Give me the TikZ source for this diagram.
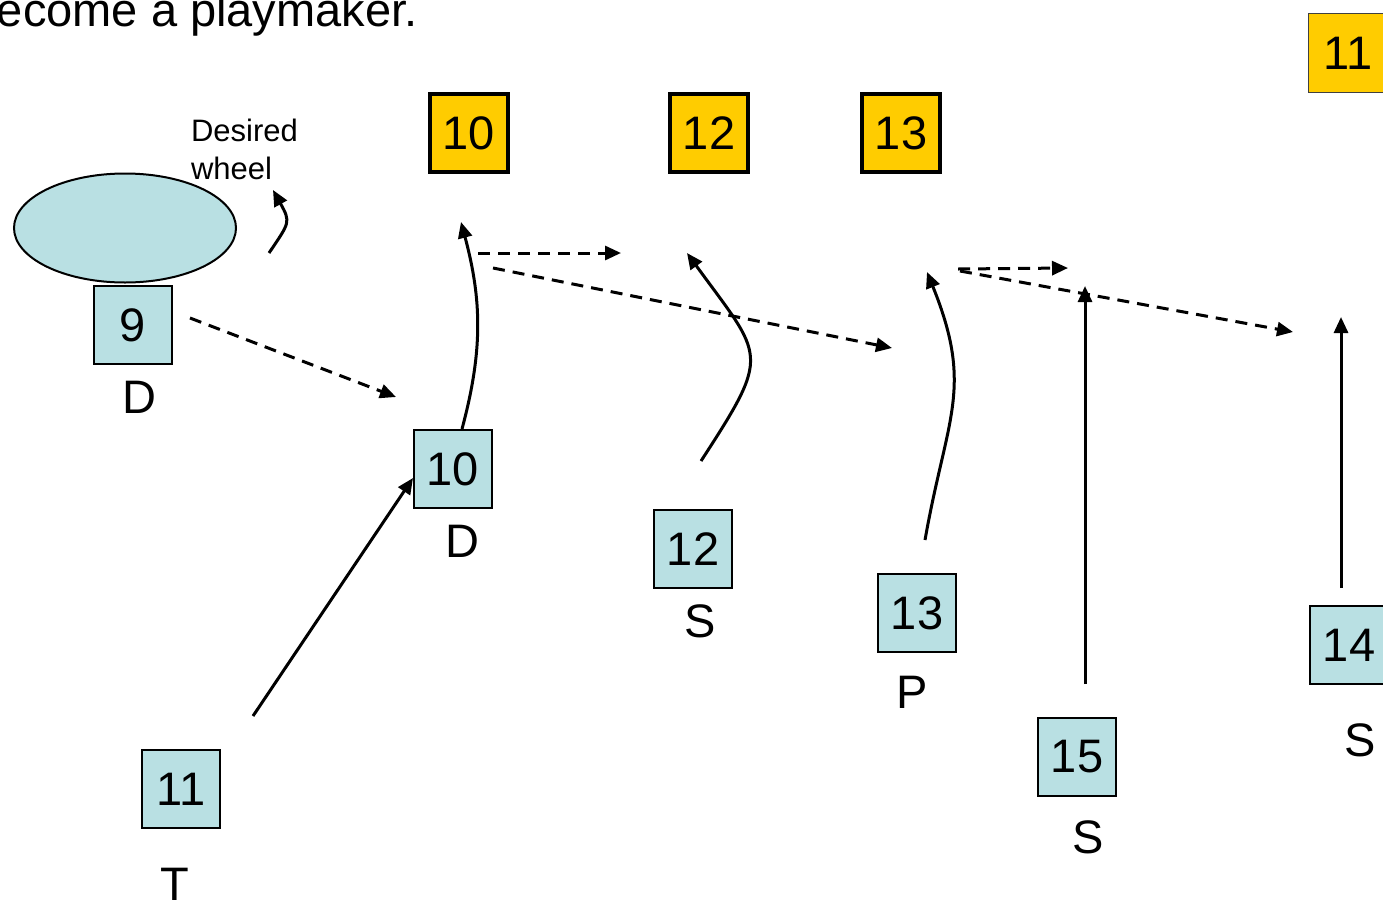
\documentclass[tikz,border=0pt]{standalone}
\usepackage{fontspec}
\setmainfont{Liberation Sans}
\usetikzlibrary{arrows.meta,positioning,shapes.geometric}
\definecolor{gold}{HTML}{FFCC00}
\definecolor{pale}{HTML}{B9E0E3}

\begin{document}
\begin{tikzpicture}[x=1pt,y=-1pt,>={Triangle[length=16pt,width=14pt]},line width=2pt,node distance=72pt,
	font=\fontsize{47}{56}\selectfont,
	own/.style={draw,fill=pale,line width=2pt,minimum size=78pt,inner sep=0pt},
	opp/.style={draw,fill=gold,line width=4pt,minimum size=78pt,inner sep=0pt},
	pass/.style={dash pattern=on 12pt off 8pt}]

\useasboundingbox (0,0) rectangle (1383,900);

\node (title) [anchor=base west,inner sep=0pt] at (-4,26) {ecome a playmaker.};

\node[ellipse,draw,fill=pale,minimum width=222pt,minimum height=109pt,inner sep=0pt] (wheel) at (125,228) {};
\node (want) [align=left,anchor=west,inner sep=0pt,font=\fontsize{31}{38}\selectfont] at (190,149) {Desired\\wheel};

\node[opp]	(y10)	at (469,133)	{10};
\node[opp]	(y12)	[right=158pt of y10]	{12};
\node[opp]	(y13)	[right=110pt of y12]	{13};
\node[opp,line width=1.5pt,draw=darkgray,minimum size=79pt] (y11) at (1348,53) {11};

\node[own]	(b9)	at (133,325)	{9};
\node[own]	(b10)	at (453,469)	{10};
\node[own]	(b12)	at (693,549)	{12};
\node[own]	(b13)	at (917,613)	{13};
\node[own]	(b15)	at (1077,757)	{15};
\node[own]	(b14)	at (1349,645)	{14};
\node[own]	(b11)	at (181,789)	{11};

\node	(l9)	[below of=b9,xshift=6pt]	{D};
\node	(l10)	[below of=b10,xshift=9pt]	{D};
\node	(l12)	[below of=b12,xshift=7pt]	{S};
\node	(l13)	[below of=b13,node distance=79pt,xshift=-5pt]	{P};
\node	(l15)	[below of=b15,node distance=80pt,xshift=11pt]	{S};
\node	(l14)	[below of=b14,node distance=95pt,xshift=11pt]	{S};
\node	(l11)	[below of=b11,node distance=95pt,xshift=-6pt]	{T};

% run ends
\coordinate (t11s) at (253,716);
\coordinate (d10e) at (461,222);
\coordinate (s12s) at (701,461);
\coordinate (s12e) at (687,253);
\coordinate (p13s) at (925,540);
\coordinate (p13e) at (927,272);
\coordinate (s15s) at (1085,684);
\coordinate (s15e) at (1085,286);
\coordinate (s14s) at (1341,588);
\coordinate (s14e) at (1341,317);
\coordinate (w1) at (269,253);
\coordinate (w2) at (273,190);

% pass ends
\coordinate (r9s) at (190,318);
\coordinate (r9e) at (396,397);
\coordinate (r10s) at (478,253);
\coordinate (r10e) at (621,253);
\coordinate (r10ls) at (493,268);
\coordinate (r10le) at (892,348);
\coordinate (r13s) at (958,269);
\coordinate (r13e) at (1068,268);
\coordinate (r13ls) at (960,271);
\coordinate (r13le) at (1293,332);

\path[->,line width=3pt] (t11s)	edge	([yshift=-9pt]b10.west)
	([xshift=9pt]b10.north)	edge[out=75,in=-75]	(d10e)
	(s12s)	edge[out=57,in=-54,looseness=1.6]	(s12e)
	(p13s)	edge[out=80,in=-68,looseness=1.2]	(p13e)
	(s15s)	edge	(s15e)
	(s14s)	edge	(s14e)
	(w1)	edge[out=56,in=-61,looseness=1.5]	(w2);

\path[->,pass,line width=3pt] (r9s)	edge	(r9e)
	(r10s)	edge	(r10e)
	(r10ls)	edge	(r10le)
	(r13s)	edge	(r13e)
	(r13ls)	edge	(r13le);

\end{tikzpicture}
\end{document}
